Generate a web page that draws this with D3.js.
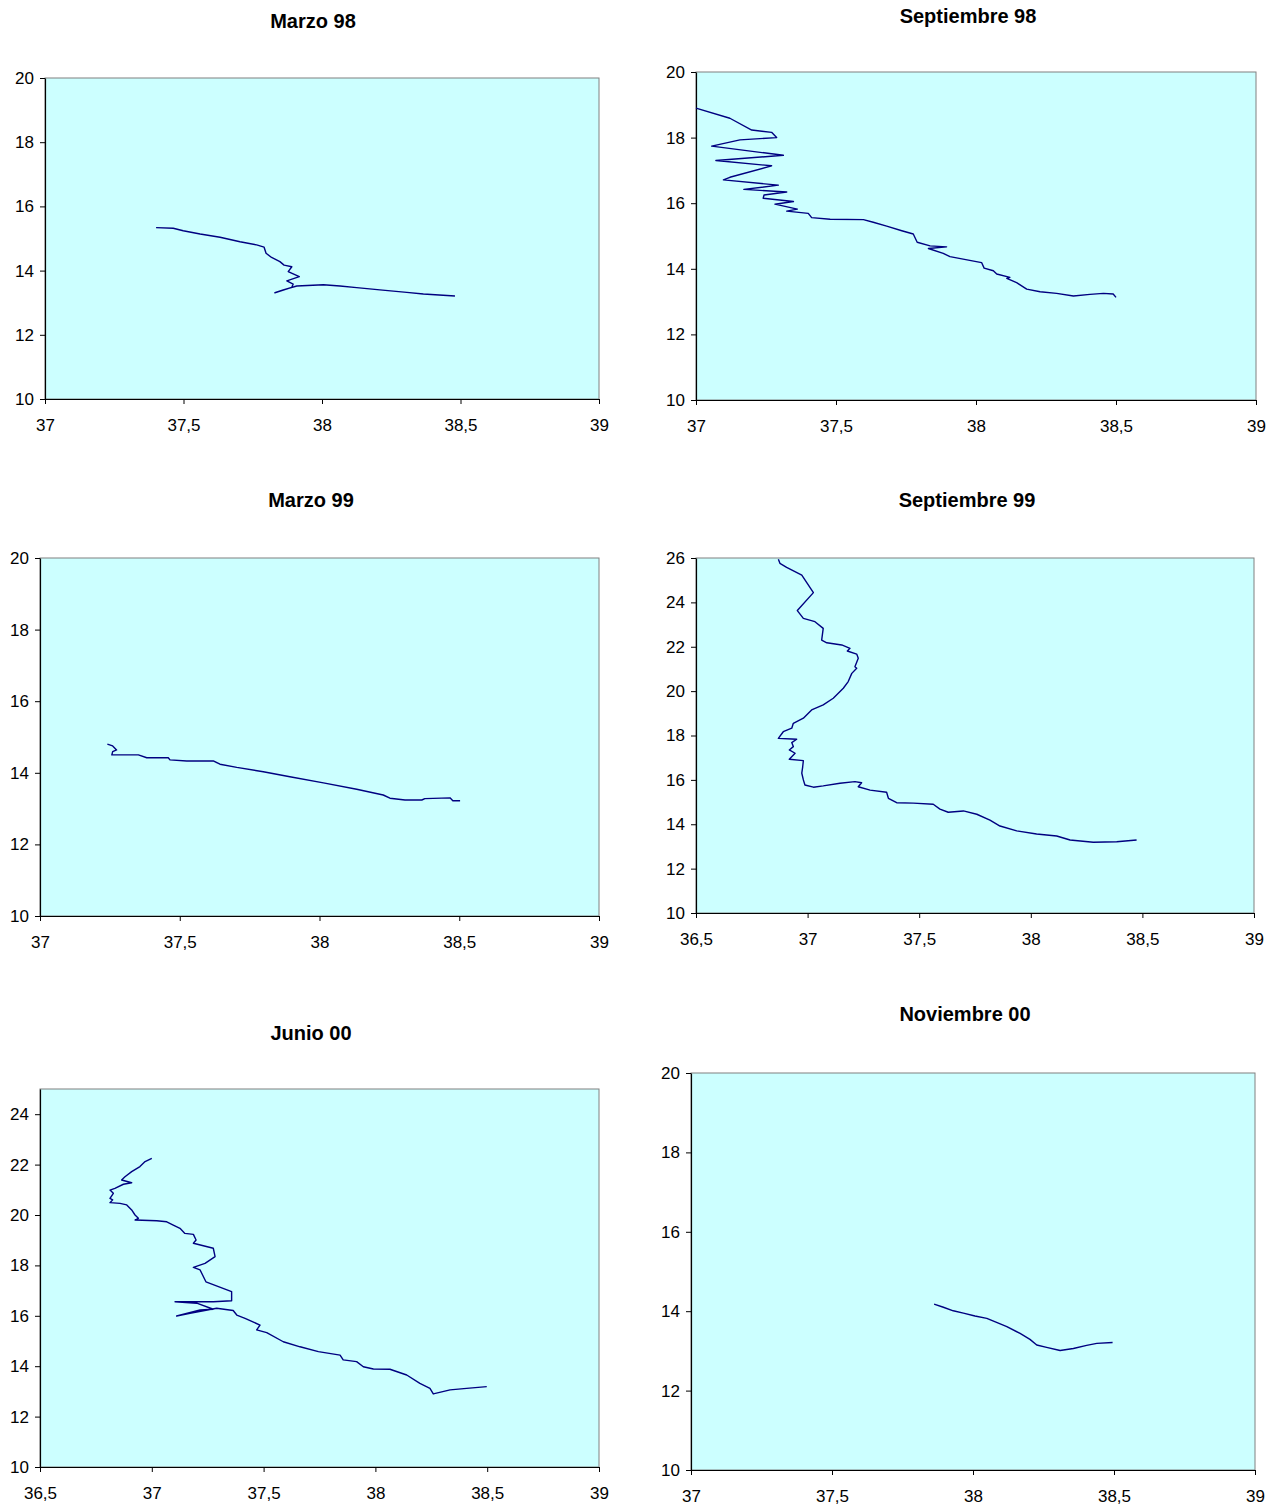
<!DOCTYPE html>
<html>
<head>
<meta charset="utf-8">
<script src="https://cdn.jsdelivr.net/npm/d3@7"></script>
<style>
  html, body { margin: 0; padding: 0; background: #ffffff; }
  svg { display: block; font-family: "Liberation Sans", Arial, sans-serif; }
</style>
</head>
<body>
<svg id="chart" width="1276" height="1508"></svg>
<script>
// Ship tracks, [longitude, latitude] per recorded position
const marzo98 = [
  [37.401, 15.34], [37.463, 15.32], [37.499, 15.24], [37.560, 15.14], [37.632, 15.04],
  [37.704, 14.90], [37.764, 14.80], [37.791, 14.73], [37.798, 14.54], [37.818, 14.41],
  [37.848, 14.28], [37.863, 14.17], [37.891, 14.12], [37.878, 13.97], [37.918, 13.81],
  [37.873, 13.68], [37.896, 13.58], [37.891, 13.48], [37.830, 13.31], [37.860, 13.40],
  [37.909, 13.52], [38.005, 13.56], [38.065, 13.52], [38.125, 13.47], [38.209, 13.40],
  [38.306, 13.32], [38.366, 13.27], [38.480, 13.21]
];

const septiembre98 = [
  [37.000, 18.90], [37.121, 18.59], [37.199, 18.23], [37.270, 18.16], [37.288, 18.00],
  [37.157, 17.93], [37.056, 17.74], [37.312, 17.46], [37.071, 17.30], [37.270, 17.14],
  [37.121, 16.79], [37.098, 16.71], [37.294, 16.55], [37.171, 16.42], [37.324, 16.34],
  [37.243, 16.25], [37.240, 16.15], [37.348, 16.05], [37.282, 15.97], [37.362, 15.82],
  [37.324, 15.76], [37.401, 15.69], [37.413, 15.56], [37.479, 15.51], [37.598, 15.50],
  [37.633, 15.42], [37.681, 15.30], [37.735, 15.16], [37.776, 15.06], [37.790, 14.81],
  [37.836, 14.70], [37.895, 14.67], [37.830, 14.62], [37.883, 14.47], [37.907, 14.37],
  [38.020, 14.19], [38.029, 14.02], [38.062, 13.94], [38.074, 13.84], [38.121, 13.74],
  [38.110, 13.71], [38.145, 13.58], [38.181, 13.38], [38.229, 13.30], [38.288, 13.25],
  [38.348, 13.17], [38.407, 13.22], [38.455, 13.25], [38.490, 13.23], [38.500, 13.13]
];

const marzo99 = [
  [37.241, 14.80], [37.260, 14.75], [37.274, 14.64], [37.260, 14.59], [37.257, 14.50],
  [37.352, 14.50], [37.382, 14.42], [37.459, 14.42], [37.465, 14.36], [37.525, 14.33],
  [37.620, 14.33], [37.644, 14.24], [37.704, 14.15], [37.799, 14.03], [37.894, 13.89],
  [38.014, 13.72], [38.133, 13.54], [38.228, 13.38], [38.252, 13.29], [38.306, 13.24],
  [38.366, 13.24], [38.377, 13.28], [38.467, 13.30], [38.477, 13.22], [38.503, 13.22]
];

const septiembre99 = [
  [36.869, 25.94], [36.876, 25.76], [36.906, 25.58], [36.974, 25.23], [37.026, 24.44],
  [36.954, 23.63], [36.981, 23.28], [37.033, 23.13], [37.070, 22.83], [37.063, 22.30],
  [37.086, 22.18], [37.153, 22.08], [37.190, 21.93], [37.178, 21.81], [37.220, 21.67],
  [37.227, 21.48], [37.212, 21.10], [37.220, 21.03], [37.198, 20.80], [37.182, 20.43],
  [37.160, 20.13], [37.115, 19.68], [37.070, 19.38], [37.018, 19.15], [36.981, 18.78],
  [36.936, 18.55], [36.929, 18.33], [36.891, 18.17], [36.869, 17.87], [36.929, 17.84],
  [36.951, 17.83], [36.929, 17.68], [36.936, 17.50], [36.918, 17.35], [36.944, 17.20],
  [36.918, 16.93], [36.981, 16.87], [36.978, 16.59], [36.974, 16.30], [36.981, 16.00],
  [36.988, 15.77], [37.026, 15.67], [37.070, 15.73], [37.145, 15.85], [37.212, 15.92],
  [37.242, 15.87], [37.227, 15.69], [37.280, 15.54], [37.354, 15.44], [37.362, 15.17],
  [37.399, 14.97], [37.474, 14.95], [37.563, 14.90], [37.593, 14.68], [37.630, 14.54],
  [37.698, 14.60], [37.758, 14.45], [37.817, 14.19], [37.862, 13.92], [37.937, 13.70],
  [38.026, 13.56], [38.116, 13.47], [38.176, 13.29], [38.280, 13.19], [38.385, 13.21],
  [38.474, 13.29]
];

const junio00 = [
  [37.000, 22.25], [36.970, 22.12], [36.947, 21.92], [36.910, 21.72], [36.880, 21.52],
  [36.865, 21.39], [36.910, 21.28], [36.873, 21.22], [36.835, 21.06], [36.813, 20.99],
  [36.828, 20.86], [36.813, 20.66], [36.825, 20.60], [36.813, 20.49], [36.858, 20.46],
  [36.888, 20.40], [36.910, 20.20], [36.925, 20.00], [36.940, 19.87], [36.925, 19.80],
  [37.022, 19.77], [37.067, 19.73], [37.096, 19.60], [37.126, 19.47], [37.148, 19.27],
  [37.186, 19.23], [37.198, 19.01], [37.186, 18.88], [37.275, 18.68], [37.283, 18.35],
  [37.238, 18.08], [37.186, 17.92], [37.216, 17.82], [37.242, 17.35], [37.357, 16.96],
  [37.357, 16.60], [37.275, 16.56], [37.104, 16.56], [37.201, 16.50], [37.275, 16.26],
  [37.216, 16.23], [37.111, 15.99], [37.171, 16.10], [37.290, 16.30], [37.364, 16.21],
  [37.380, 16.03], [37.417, 15.90], [37.484, 15.63], [37.469, 15.44], [37.514, 15.33],
  [37.588, 14.97], [37.663, 14.77], [37.745, 14.58], [37.842, 14.44], [37.856, 14.25],
  [37.916, 14.18], [37.946, 13.98], [37.991, 13.89], [38.065, 13.88], [38.140, 13.65],
  [38.199, 13.32], [38.244, 13.12], [38.259, 12.90], [38.334, 13.06], [38.408, 13.12],
  [38.498, 13.19]
];

const noviembre00 = [
  [37.862, 14.18], [37.895, 14.10], [37.930, 14.01], [37.966, 13.95], [38.007, 13.88],
  [38.049, 13.82], [38.090, 13.70], [38.120, 13.61], [38.167, 13.44], [38.202, 13.29],
  [38.226, 13.15], [38.261, 13.09], [38.309, 13.01], [38.356, 13.06], [38.403, 13.14],
  [38.439, 13.19], [38.495, 13.21]
];

// Panel titles and axis ranges
const titles = ["Marzo 98", "Septiembre 98", "Marzo 99", "Septiembre 99", "Junio 00", "Noviembre 00"];
const tracks = [marzo98, septiembre98, marzo99, septiembre99, junio00, noviembre00];
const xDomains = [[37, 39], [37, 39], [37, 39], [36.5, 39], [36.5, 39], [37, 39]];
const yDomains = [[10, 20], [10, 20], [10, 20], [10, 26], [10, 25], [10, 20]];
const xTickStep = 0.5;
const yTickStep = 2;

// Plot boxes (left, right, top, bottom) and title anchors
const layout = [
  { l: 45,  r: 599,  t: 78,   b: 399,  tx: 313, ty: 28 },
  { l: 696, r: 1256, t: 72,   b: 400,  tx: 968, ty: 23 },
  { l: 40,  r: 599,  t: 558,  b: 916,  tx: 311, ty: 507 },
  { l: 696, r: 1254, t: 558,  b: 913,  tx: 967, ty: 507 },
  { l: 40,  r: 599,  t: 1089, b: 1467, tx: 311, ty: 1040 },
  { l: 691, r: 1255, t: 1073, b: 1470, tx: 965, ty: 1021 }
];

const esLocale = d3.formatLocale({ decimal: ",", thousands: ".", grouping: [3], currency: ["", " €"] });
const fmt = esLocale.format("~g");

const svg = d3.select("#chart");

titles.forEach((title, i) => {
  const box = layout[i];
  const [x0, x1] = xDomains[i];
  const [y0, y1] = yDomains[i];

  const x = d3.scaleLinear().domain([x0, x1]).range([box.l, box.r]);
  const y = d3.scaleLinear().domain([y0, y1]).range([box.b, box.t]);

  const g = svg.append("g");

  // plot area background with grey frame
  g.append("rect")
    .attr("x", box.l).attr("y", box.t)
    .attr("width", box.r - box.l).attr("height", box.b - box.t)
    .attr("fill", "#ccffff")
    .attr("stroke", "#808080")
    .attr("stroke-width", 1);

  const xTicks = d3.range(x0, x1 + 1e-9, xTickStep);
  const yTicks = d3.range(y0, y1 + 1e-9, yTickStep);

  const xAxis = g.append("g")
    .attr("transform", `translate(0,${box.b})`)
    .call(d3.axisBottom(x).tickValues(xTicks).tickFormat(fmt).tickSize(5).tickSizeOuter(0).tickPadding(15));

  const yAxis = g.append("g")
    .attr("transform", `translate(${box.l},0)`)
    .call(d3.axisLeft(y).tickValues(yTicks).tickFormat(fmt).tickSize(5).tickSizeOuter(0).tickPadding(6));

  [xAxis, yAxis].forEach(ax => {
    ax.select(".domain").attr("stroke", "#000").attr("stroke-width", 1.2);
    ax.selectAll(".tick line").attr("stroke", "#000");
    ax.selectAll(".tick text")
      .attr("fill", "#000")
      .style("font-size", "17px")
      .style("font-family", "'Liberation Sans', Arial, sans-serif");
  });

  // track line
  const line = d3.line().x(d => x(d[0])).y(d => y(d[1]));
  g.append("path")
    .datum(tracks[i])
    .attr("d", line)
    .attr("fill", "none")
    .attr("stroke", "#000080")
    .attr("stroke-width", 1.4)
    .attr("stroke-linejoin", "round");

  // title
  g.append("text")
    .attr("x", box.tx).attr("y", box.ty)
    .attr("text-anchor", "middle")
    .style("font-size", "20px")
    .style("font-weight", "bold")
    .attr("fill", "#000")
    .text(title);
});
</script>
</body>
</html>
